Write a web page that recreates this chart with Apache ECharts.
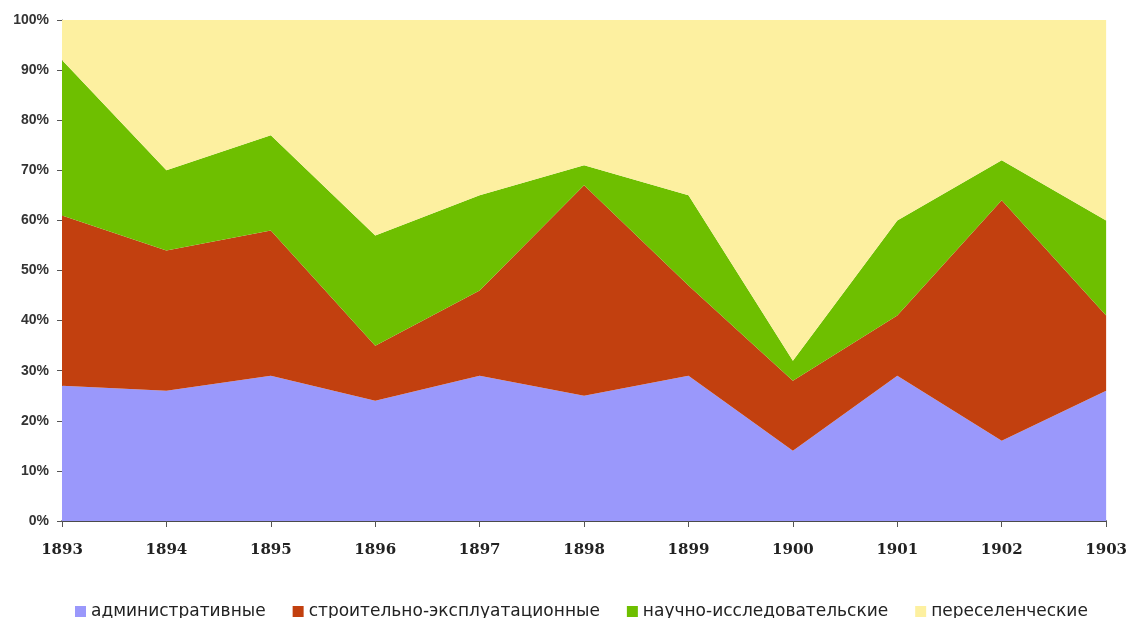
<!DOCTYPE html>
<html>
<head>
<meta charset="utf-8">
<script src="https://cdn.jsdelivr.net/npm/echarts@6/dist/echarts.min.js"></script>
<style>
  html, body { margin: 0; padding: 0; background: #fff; }
  #main { width: 1130px; height: 618px; }
</style>
</head>
<body>
<div id="main"></div>
<script>
// годы
var years = ['1893', '1894', '1895', '1896', '1897', '1898', '1899', '1900', '1901', '1902', '1903'];
// доли, %
var admin = [27, 26, 29, 24, 29, 25, 29, 14, 29, 16, 26];
var stroit = [34, 28, 29, 11, 17, 42, 18, 14, 12, 48, 15];
var nauch = [31, 16, 19, 22, 19, 4, 18, 4, 19, 8, 19];
var peresel = [8, 30, 23, 43, 35, 29, 35, 68, 40, 28, 40];
var names = ['административные', 'строительно-эксплуатационные', 'научно-исследовательские', 'переселенческие'];

var myChart = echarts.init(document.getElementById('main'));

function area(name, data, color) {
    return {
        name: name,
        type: 'line',
        stack: 'total',
        data: data,
        symbol: 'none',
        lineStyle: { width: 0 },
        areaStyle: { color: color, opacity: 1 },
        itemStyle: { color: color },
        emphasis: { disabled: true }
    };
}

var option = {
    animation: false,
    grid: { left: 62, right: 23, top: 20, bottom: 97 },
    legend: {
        top: 598,
        left: 70,
        itemWidth: 11,
        itemHeight: 11,
        itemGap: 27,
        icon: 'rect',
        textStyle: { fontFamily: 'DejaVu Sans', fontSize: 17, color: '#222' },
        data: names
    },
    xAxis: {
        type: 'category',
        boundaryGap: false,
        data: years,
        axisLine: { lineStyle: { color: '#111', width: 1.5 } },
        axisTick: { show: true, length: 6, lineStyle: { color: '#555' } },
        axisLabel: {
            margin: 22,
            fontFamily: 'DejaVu Serif',
            fontWeight: 'bold',
            fontSize: 15,
            color: '#222'
        }
    },
    yAxis: {
        type: 'value',
        min: 0,
        max: 100,
        interval: 10,
        axisLine: { show: true, lineStyle: { color: '#777' } },
        axisTick: { show: true, length: 5, lineStyle: { color: '#555' } },
        splitLine: { show: false },
        axisLabel: {
            formatter: '{value}%',
            margin: 13,
            fontFamily: 'Liberation Sans',
            fontWeight: 'bold',
            fontSize: 14,
            color: '#333'
        }
    },
    series: [
        area(names[0], admin, '#9a98fb'),
        area(names[1], stroit, '#c2400f'),
        area(names[2], nauch, '#6ebf00'),
        area(names[3], peresel, '#fdf0a0')
    ]
};

myChart.setOption(option);
window.onresize = myChart.resize;
</script>
</body>
</html>
